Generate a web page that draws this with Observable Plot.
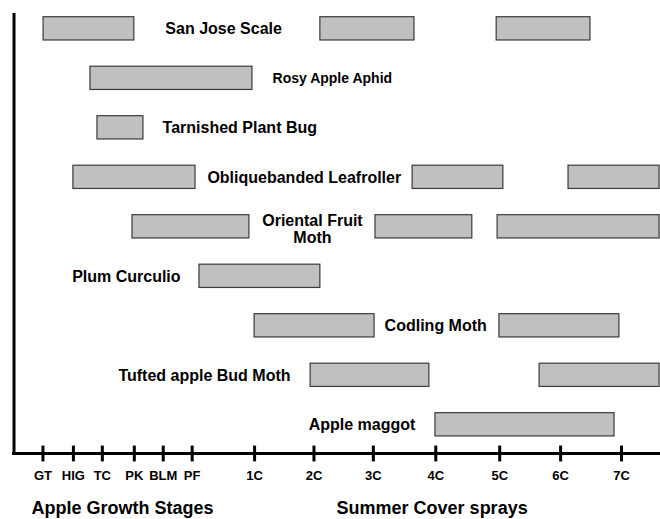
<!DOCTYPE html>
<html>
<head>
<meta charset="utf-8">
<script src="https://cdn.jsdelivr.net/npm/d3@7"></script>
<script src="https://cdn.jsdelivr.net/npm/@observablehq/plot@0.6"></script>
<style>
  html, body { margin: 0; padding: 0; background: #fff; }
  svg { display: block; }
</style>
</head>
<body>
<div id="chart"></div>
<script>
// Pest rows (top to bottom)
const pests = [
  "San Jose Scale",
  "Rosy Apple Aphid",
  "Tarnished Plant Bug",
  "Obliquebanded Leafroller",
  "Oriental Fruit\nMoth",
  "Plum Curculio",
  "Codling Moth",
  "Tufted apple Bud Moth",
  "Apple maggot"
];

// Timing windows (in stage units along the season axis)
const barPest  = [0, 0, 0, 1, 2, 3, 3, 3, 4, 4, 4, 5, 6, 6, 7, 7, 8];
const barStart = [0.02, 9.11, 14.9, 1.56, 1.79, 1.0, 12.14, 17.26, 2.94, 10.92, 14.93, 5.14, 6.95, 14.99, 8.79, 16.31, 12.89];
const barEnd   = [3.0, 12.2, 17.98, 6.88, 3.3, 5.01, 15.12, 20.25, 6.78, 14.1, 20.25, 9.11, 10.89, 18.93, 12.69, 20.25, 18.77];

// Where each pest's name is placed along the axis, and its anchor
const labelAt     = [4.02, 7.54, 3.93, 5.4, 8.85, 4.52, 11.22, 8.13, 12.23];
const labelAnchor = ["start", "start", "start", "start", "middle", "end", "start", "end", "end"];

// Stage tick labels and positions
const stageLabels = ["GT", "HIG", "TC", "PK", "BLM", "PF", "1C", "2C", "3C", "4C", "5C", "6C", "7C"];
const stagePos    = [0, 1, 1.95, 3, 3.95, 4.9, 6.95, 8.9, 10.85, 12.9, 15, 17, 19];

// Axis group titles
const groupTitles = ["Apple Growth Stages", "Summer Cover sprays"];
const groupAt     = [2.61, 12.78];

const axisRow = 8.58;
const bars = barPest.map((p, i) => ({row: p, start: barStart[i], end: barEnd[i]}));
const labels = pests.map((name, i) => ({row: i, name, x: labelAt[i], anchor: labelAnchor[i]}));
const stages = stageLabels.map((s, i) => ({label: s, x: stagePos[i]}));
const groups = groupTitles.map((t, i) => ({title: t, x: groupAt[i]}));

const font = "'Liberation Sans', Arial, Helvetica, sans-serif";
const halfBar = 0.235;

const chart = Plot.plot({
  width: 660,
  height: 519,
  style: {fontFamily: font, background: "#fff"},
  x: {domain: [-1, 20.28], range: [12, 660], axis: null},
  y: {domain: [-0.31, axisRow], range: [13, 453], axis: null},
  marks: [
    Plot.rect(bars, {
      x1: "start", x2: "end",
      y1: d => d.row - halfBar, y2: d => d.row + halfBar,
      fill: "#c0c0c0", stroke: "#3a3a3a", strokeWidth: 1.2
    }),
    ...["start", "middle", "end"].map(a =>
      Plot.text(labels.filter(d => d.anchor === a), {
        x: "x", y: "row", text: "name",
        textAnchor: a, lineAnchor: "middle", lineHeight: 1.1,
        dy: a === "middle" ? 2 : 0,
        fontSize: d => d.row === 1 ? 14 : 16,
        fontWeight: "bold", fill: "#000"
      })
    ),
    Plot.ruleY([axisRow], {x1: -1, x2: 20.28, stroke: "#000", strokeWidth: 3}),
    Plot.ruleX([-0.95], {y1: -0.31, y2: axisRow + 0.03, stroke: "#000", strokeWidth: 3}),
    Plot.ruleX(stages, {x: "x", y1: axisRow - 0.15, y2: axisRow + 0.17, stroke: "#000", strokeWidth: 3}),
    Plot.text(stages, {
      x: "x", y: axisRow, text: "label", dy: 22,
      lineAnchor: "middle", fontSize: 13, fontWeight: "bold", fill: "#000",
      style: {letterSpacing: "0.6px"}
    }),
    Plot.text(groups, {
      x: "x", y: axisRow, text: "title", dy: 60,
      lineAnchor: "bottom", fontSize: 18, fontWeight: "bold", fill: "#000"
    })
  ]
});
document.getElementById("chart").appendChild(chart);
</script>
</body>
</html>
